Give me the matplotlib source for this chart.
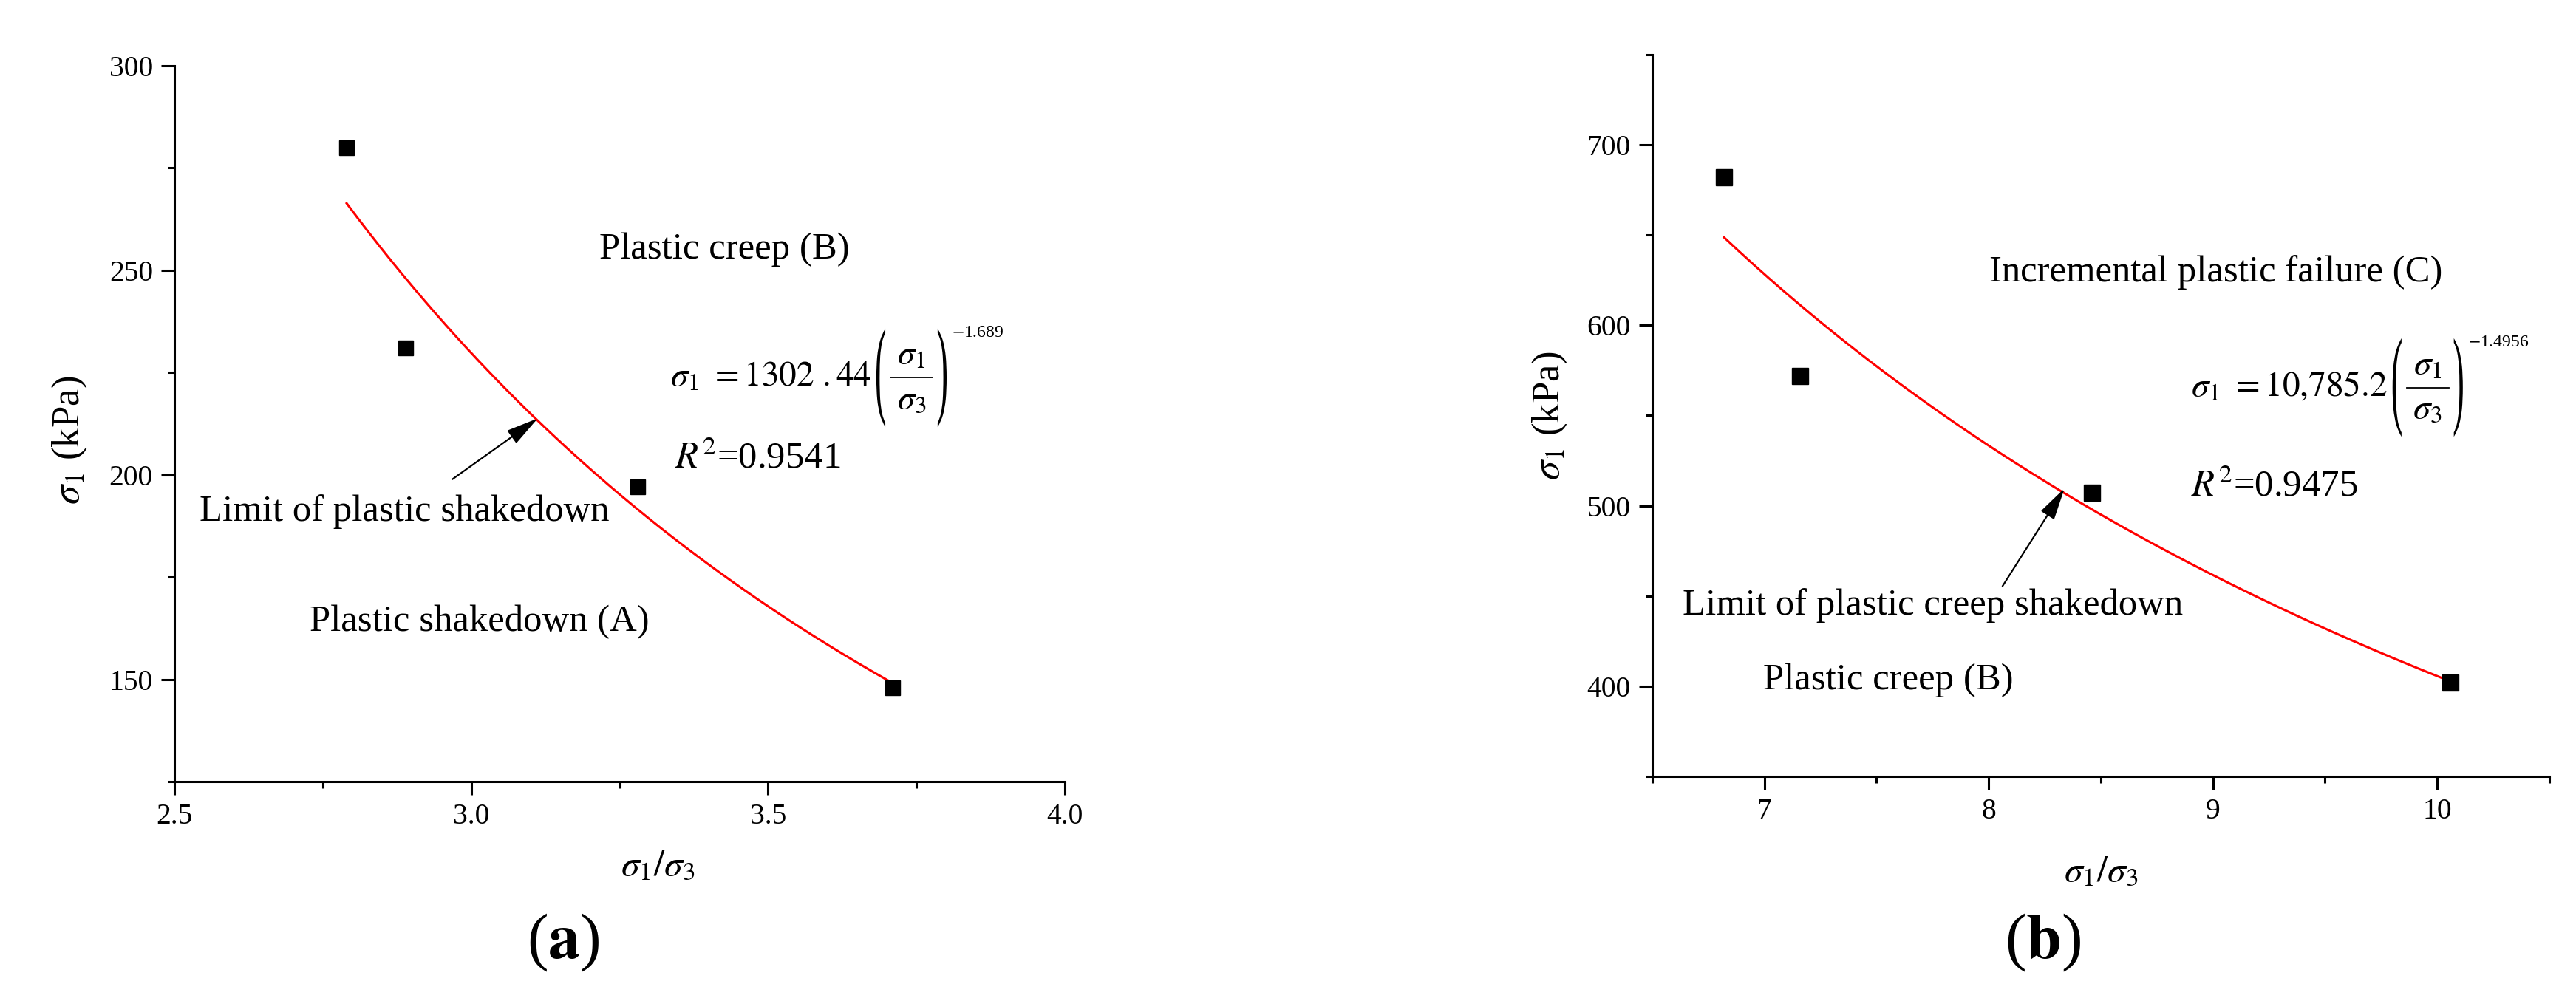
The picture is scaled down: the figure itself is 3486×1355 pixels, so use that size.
import numpy as np
import matplotlib.pyplot as plt
from matplotlib.ticker import MultipleLocator, FormatStrFormatter
from matplotlib.offsetbox import TextArea, DrawingArea, HPacker, VPacker, AnnotationBbox
from matplotlib.textpath import TextPath
from matplotlib.font_manager import FontProperties
from matplotlib.patches import PathPatch
from matplotlib.transforms import Affine2D
from matplotlib.lines import Line2D

plt.rcParams['font.family'] = ['Liberation Serif', 'DejaVu Serif']
plt.rcParams['mathtext.fontset'] = 'stix'

# Data
ratio_a = [2.79, 2.89, 3.28, 3.71]
sigma_a = [280, 231, 197, 148]
ratio_b = [6.82, 7.16, 8.46, 10.06]
sigma_b = [682, 572, 507, 402]

coef_a = r'$\sigma_1\ = 1302\ .44$'
exp_a = r'$-$1.689'
r2_a = r'$R^2$=0.9541'
coef_b = r'$\sigma_1\ = 10{,}785.2$'
exp_b = r'$-$1.4956'
r2_b = r'$R^2$=0.9475'

TXT = 36.5
EQ = 34


def power_fit(x, y):
    # allometric fit y = a * x^b (log-log least squares)
    b, lna = np.polyfit(np.log(x), np.log(y), 1)
    xs = np.linspace(min(x), max(x), 200)
    return xs, np.exp(lna) * xs ** b


def paren(ch, height=96):
    # tall thin bracket: a serif glyph stretched vertically
    tp = TextPath((0, 0), ch, size=EQ, prop=FontProperties(family='Liberation Serif'))
    ext = tp.get_extents()
    tr = Affine2D().translate(-ext.x0, -ext.y0).scale(1, height / ext.height)
    path = tp.transformed(tr)
    da = DrawingArea(ext.width, height)
    da.add_artist(PathPatch(path, fc='black', lw=0))
    return da


def equation(ax, x, y, coef, expo):
    bar = DrawingArea(41, 2)
    bar.add_artist(Line2D([0, 41], [1, 1], color='black', lw=1.3))
    frac = VPacker(children=[TextArea(r'$\sigma_1$', textprops=dict(fontsize=EQ)),
                             bar,
                             TextArea(r'$\sigma_3$', textprops=dict(fontsize=EQ))],
                   align='center', pad=0, sep=5)
    sup = VPacker(children=[TextArea(expo, textprops=dict(fontsize=17)),
                            DrawingArea(1, 88)], align='left', pad=0, sep=0)
    box = HPacker(children=[TextArea(coef, textprops=dict(fontsize=EQ)),
                            paren('('), frac, paren(')'), sup],
                  align='center', pad=0, sep=5)
    ab = AnnotationBbox(box, (x, y), xycoords='data', box_alignment=(0, 0.5),
                        frameon=False, pad=0)
    ax.add_artist(ab)


def style_axes(ax):
    for s in ['top', 'right']:
        ax.spines[s].set_visible(False)
    for s in ['left', 'bottom']:
        ax.spines[s].set_linewidth(2.2)
    ax.tick_params(which='major', direction='out', length=13, width=2.2, labelsize=28.5, pad=8)
    ax.tick_params(which='minor', direction='out', length=6.5, width=2.2)


fig = plt.figure(figsize=(34.87, 13.55), dpi=100)
ax1 = fig.add_axes([0.0677, 0.2192, 0.3456, 0.7151])
ax2 = fig.add_axes([0.6412, 0.2244, 0.3481, 0.7210])

arrow = dict(arrowstyle='-|>,head_length=0.9,head_width=0.22', color='black',
             lw=1.6, mutation_scale=30, shrinkA=0, shrinkB=0)

# ---- panel (a)
xs, ys = power_fit(ratio_a, sigma_a)
ax1.plot(xs, ys, color='red', lw=2.2, zorder=2)
ax1.plot(ratio_a, sigma_a, 's', color='black', markersize=14.5, zorder=3)
ax1.set_xlim(2.5, 4.0)
ax1.set_ylim(125, 300)
ax1.xaxis.set_major_locator(MultipleLocator(0.5))
ax1.xaxis.set_minor_locator(MultipleLocator(0.25))
ax1.xaxis.set_major_formatter(FormatStrFormatter('%.1f'))
ax1.yaxis.set_major_locator(MultipleLocator(50))
ax1.yaxis.set_minor_locator(MultipleLocator(25))
style_axes(ax1)
ax1.set_xlabel(r'$\sigma_1/\sigma_3$', fontsize=36)
ax1.xaxis.set_label_coords(0.543, -0.118)
ax1.xaxis.label.set_va('center')
ax1.set_ylabel(r'$\sigma_1$ (kPa)', fontsize=38)
ax1.yaxis.set_label_coords(-0.118, 0.477)
ax1.yaxis.label.set_va('center')

ax1.text(3.216, 255, 'Plastic creep (B)', fontsize=TXT, va='center')
equation(ax1, 3.335, 223.7, coef_a, exp_a)
ax1.text(3.343, 204, r2_a, fontsize=TXT, va='center')
ax1.text(2.542, 191, 'Limit of plastic shakedown', fontsize=TXT, va='center')
ax1.text(2.728, 164, 'Plastic shakedown (A)', fontsize=TXT, va='center')
ax1.annotate('', xy=(3.112, 213.8), xytext=(2.968, 198.9), arrowprops=arrow)

# ---- panel (b)
xs, ys = power_fit(ratio_b, sigma_b)
ax2.plot(xs, ys, color='red', lw=2.2, zorder=2)
ax2.plot(ratio_b, sigma_b, 's', color='black', markersize=15.5, zorder=3)
ax2.set_xlim(6.5, 10.5)
ax2.set_ylim(350, 750)
ax2.xaxis.set_major_locator(MultipleLocator(1))
ax2.xaxis.set_minor_locator(MultipleLocator(0.5))
ax2.yaxis.set_major_locator(MultipleLocator(100))
ax2.yaxis.set_minor_locator(MultipleLocator(50))
style_axes(ax2)
ax2.set_xlabel(r'$\sigma_1/\sigma_3$', fontsize=36)
ax2.xaxis.set_label_coords(0.5, -0.132)
ax2.xaxis.label.set_va('center')
ax2.set_ylabel(r'$\sigma_1$ (kPa)', fontsize=38)
ax2.yaxis.set_label_coords(-0.1145, 0.5)
ax2.yaxis.label.set_va('center')

ax2.text(8.002, 629.5, 'Incremental plastic failure (C)', fontsize=TXT, va='center')
equation(ax2, 8.903, 565.5, coef_b, exp_b)
ax2.text(8.903, 510.4, r2_b, fontsize=TXT, va='center')
ax2.text(6.634, 444.7, 'Limit of plastic creep shakedown', fontsize=TXT, va='center')
ax2.text(6.994, 403.1, 'Plastic creep (B)', fontsize=TXT, va='center')
ax2.annotate('', xy=(8.339, 509.7), xytext=(8.062, 455.4), arrowprops=arrow)

fig.text(0.2185, 0.0576, r'($\mathbf{a}$)', fontsize=62, ha='center', va='center')
fig.text(0.793, 0.0576, r'($\mathbf{b}$)', fontsize=62, ha='center', va='center')

plt.savefig('out.png', dpi=100)
